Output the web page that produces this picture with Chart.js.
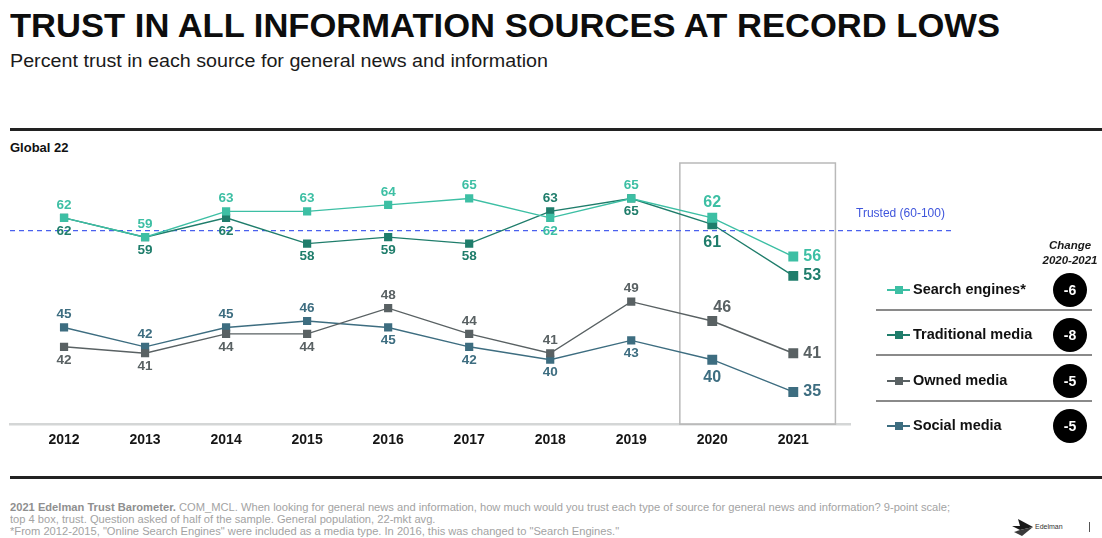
<!DOCTYPE html>
<html>
<head>
<meta charset="utf-8">
<script src="https://cdn.jsdelivr.net/npm/chart.js@4.4.1/dist/chart.umd.min.js"></script>
<style>
  html, body { margin: 0; padding: 0; background: #fff; }
  body { width: 1102px; height: 538px; position: relative; overflow: hidden; font-family: "Liberation Sans", Arial, sans-serif; color: #111; }
  .abs { position: absolute; white-space: nowrap; }
  .fit { display: inline-block; transform-origin: 0 0; }
  #title { left: 10px; top: 7px; font-size: 33px; font-weight: bold; letter-spacing: 0; color: #0d0d0d; }
  #subtitle { left: 10px; top: 51px; font-size: 17.5px; color: #1a1a1a; }
  .rule { position: absolute; left: 10px; right: 0; background: #222; }
  #global { left: 10px; top: 140px; font-size: 13px; font-weight: bold; }
  #chartBox { position: absolute; left: 0; top: 130px; width: 1102px; height: 340px; }
  .legRow { position: absolute; left: 887px; height: 20px; }
  .legRow .ln { position: absolute; left: 0; top: 9px; width: 23px; height: 1.5px; }
  .legRow .sq { position: absolute; left: 8px; top: 6px; width: 8px; height: 8px; }
  .legRow .tx { position: absolute; left: 26px; top: 1px; font-size: 14.5px; font-weight: bold; white-space: nowrap; color: #111; }
  .sep { position: absolute; left: 876px; width: 216px; height: 1.5px; background: #8a8a8a; }
  .dot { position: absolute; left: 1053px; width: 34px; height: 34px; border-radius: 50%; background: #000; color: #fff; font-size: 14px; font-weight: bold; text-align: center; line-height: 34px; }
  #change { left: 1036px; top: 238px; width: 68px; text-align: center; font-size: 11.5px; font-weight: bold; font-style: italic; line-height: 15px; color: #1a1a1a; }
  #footer { left: 10px; top: 502px; font-size: 10px; line-height: 12px; color: #a3a3a3; }
  #footer b { color: #8f8f8f; }
  #logoText { left: 1035px; top: 523px; font-size: 7px; color: #333; }
  #bar { position: absolute; left: 1089px; top: 522px; width: 1px; height: 10px; background: #555; }
</style>
</head>
<body>
<div id="title" class="abs"><span class="fit" id="titleText">TRUST IN ALL INFORMATION SOURCES AT RECORD LOWS</span></div>
<div id="subtitle" class="abs"><span class="fit" id="subText">Percent trust in each source for general news and information</span></div>
<div class="rule" style="top:128px;height:2.5px;"></div>
<div id="global" class="abs">Global 22</div>

<div id="chartBox"><canvas id="trustChart"></canvas></div>

<div id="change" class="abs">Change<br>2020-2021</div>
<div id="legend"></div>

<div class="rule" style="top:476px;height:3px;"></div>
<div id="footer" class="abs"><span class="fit" id="footText"><b>2021 Edelman Trust Barometer.</b> COM_MCL. When looking for general news and information, how much would you trust each type of source for general news and information? 9-point scale;<br>top 4 box, trust. Question asked of half of the sample. General population, 22-mkt avg.<br>*From 2012-2015, "Online Search Engines" were included as a media type. In 2016, this was changed to "Search Engines."</span></div>
<svg class="abs" style="left:1010px;top:518px" width="24" height="19" viewBox="0 0 24 19">
  <polygon points="2,8 10,8 8,1 23,9 10,12" fill="#1a1a1a"/>
  <polygon points="10,12 23,9 12,18 4,14" fill="#3a3a3a"/>
</svg>
<div id="logoText" class="abs">Edelman</div>
<div id="bar"></div>

<script>
const years = [2012, 2013, 2014, 2015, 2016, 2017, 2018, 2019, 2020, 2021];
const searchEngines    = [62, 59, 63, 63, 64, 65, 62, 65, 62, 56];
const traditionalMedia = [62, 59, 62, 58, 59, 58, 63, 65, 61, 53];
const ownedMedia       = [42, 41, 44, 44, 48, 44, 41, 49, 46, 41];
const socialMedia      = [45, 42, 45, 46, 45, 42, 40, 43, 40, 35];
const seriesNames = ['Search engines*', 'Traditional media', 'Owned media', 'Social media'];
const trustedValue = 60;
const trustedLabel = 'Trusted (60-100)';

// where each value label sits: a = above, b = below, r = right, ar = above/right
const searchPos = ['a','a','a','a','a','a','b','a','a','r'];
const tradPos   = ['b','b','b','b','b','b','a','b','b','r'];
const ownedPos  = ['b','b','b','b','a','a','a','a','ar','r'];
const socialPos = ['a','a','a','a','b','b','b','b','b','r'];

const colors = ['#3dbfa4', '#1f7d6b', '#596163', '#3d6d80'];
const allSeries = [searchEngines, traditionalMedia, ownedMedia, socialMedia];
const allPos = [searchPos, tradPos, ownedPos, socialPos];

document.addEventListener("DOMContentLoaded", function() {
    // stretch headline texts to the slide widths
    function fitWidth(id, w) {
        const el = document.getElementById(id);
        const r = el.getBoundingClientRect().width;
        el.style.transform = 'scaleX(' + (w / r) + ')';
    }
    fitWidth('titleText', 990);
    fitWidth('subText', 538);
    fitWidth('footText', 940);

    // legend with change badges
    const legend = document.getElementById('legend');
    const rowTops = [280, 325, 371, 416];
    for (let i = 0; i < seriesNames.length; i++) {
        const s = allSeries[i];
        const diff = s[s.length - 1] - s[s.length - 2];
        const row = document.createElement('div');
        row.className = 'legRow';
        row.style.top = rowTops[i] + 'px';
        row.innerHTML = '<div class="ln" style="background:' + colors[i] + '"></div>' +
            '<div class="sq" style="background:' + colors[i] + '"></div>' +
            '<div class="tx">' + seriesNames[i] + '</div>';
        legend.appendChild(row);
        const dot = document.createElement('div');
        dot.className = 'dot';
        dot.style.top = (rowTops[i] - 7) + 'px';
        dot.textContent = diff;
        legend.appendChild(dot);
        if (i < seriesNames.length - 1) {
            const sep = document.createElement('div');
            sep.className = 'sep';
            sep.style.top = (rowTops[i] + 29) + 'px';
            legend.appendChild(sep);
        }
    }

    const decor = {
        id: 'decor',
        beforeDatasetsDraw(chart) {
            const ctx = chart.ctx;
            const xs = chart.scales.x, ys = chart.scales.y;
            const area = chart.chartArea;
            // box around the last two years
            ctx.save();
            ctx.strokeStyle = '#b9b9b9';
            ctx.lineWidth = 1.5;
            const l = xs.getPixelForValue(2019.6), r = xs.getPixelForValue(2021.52);
            ctx.strokeRect(l, area.top, r - l, area.bottom - area.top);
            // trusted threshold
            const ty = ys.getPixelForValue(trustedValue);
            ctx.strokeStyle = '#4a60ee';
            ctx.lineWidth = 1.3;
            ctx.setLineDash([5, 4]);
            ctx.beginPath();
            ctx.moveTo(area.left, ty);
            ctx.lineTo(955, ty);
            ctx.stroke();
            ctx.setLineDash([]);
            ctx.fillStyle = '#3f55dc';
            ctx.font = '12px "Liberation Sans", Arial, sans-serif';
            ctx.textAlign = 'left';
            ctx.textBaseline = 'middle';
            ctx.fillText(trustedLabel, 856, ty - 17);
            ctx.restore();
        },
        afterDatasetsDraw(chart) {
            const ctx = chart.ctx;
            ctx.save();
            ctx.textBaseline = 'middle';
            chart.data.datasets.forEach(function(ds, di) {
                const meta = chart.getDatasetMeta(di);
                meta.data.forEach(function(pt, i) {
                    const pos = allPos[di][i];
                    const big = i >= years.length - 2;
                    ctx.font = 'bold ' + (big ? 16 : 13.5) + 'px "Liberation Sans", Arial, sans-serif';
                    ctx.fillStyle = colors[di];
                    let x = pt.x, y = pt.y;
                    ctx.textAlign = 'center';
                    if (pos === 'a') y -= big ? 15 : 13;
                    else if (pos === 'b') y += big ? 18 : 13;
                    else if (pos === 'ar') { y -= 13; x += 10; }
                    else if (pos === 'r') { x += 10; ctx.textAlign = 'left'; }
                    ctx.fillText(String(ds.data[i].y), x, y);
                });
            });
            ctx.restore();
        }
    };

    const ctx = document.getElementById('trustChart').getContext('2d');
    const trustChart = new Chart(ctx, {
        type: 'line',
        data: {
            datasets: seriesNames.map(function(name, i) {
                return {
                    label: name,
                    data: years.map(function(y, k) { return { x: y, y: allSeries[i][k] }; }),
                    borderColor: colors[i],
                    backgroundColor: colors[i],
                    pointBackgroundColor: colors[i],
                    pointBorderColor: colors[i],
                    borderWidth: 1.4,
                    pointStyle: 'rect',
                    pointRadius: years.map(function(y, k) { return k >= years.length - 2 ? 7 : 5.8; }),
                    pointBorderWidth: 0,
                    tension: 0,
                    fill: false
                };
            })
        },
        options: {
            responsive: true,
            maintainAspectRatio: false,
            animation: false,
            layout: { padding: { top: 33, left: 10, right: 252, bottom: 13 } },
            plugins: {
                legend: { display: false },
                tooltip: { enabled: false }
            },
            scales: {
                x: {
                    type: 'linear',
                    min: 2011.333,
                    max: 2021.7,
                    grid: { display: false, drawTicks: false },
                    border: { color: '#d4d6d6', width: 2.5 },
                    ticks: {
                        stepSize: 1,
                        includeBounds: false,
                        padding: 8,
                        color: '#151515',
                        font: { family: '"Liberation Sans", Arial, sans-serif', size: 14, weight: 'bold' },
                        callback: function(v) { return String(v); }
                    }
                },
                y: { display: false, min: 30, max: 70.5 }
            }
        },
        plugins: [decor]
    });
});
</script>
</body>
</html>
